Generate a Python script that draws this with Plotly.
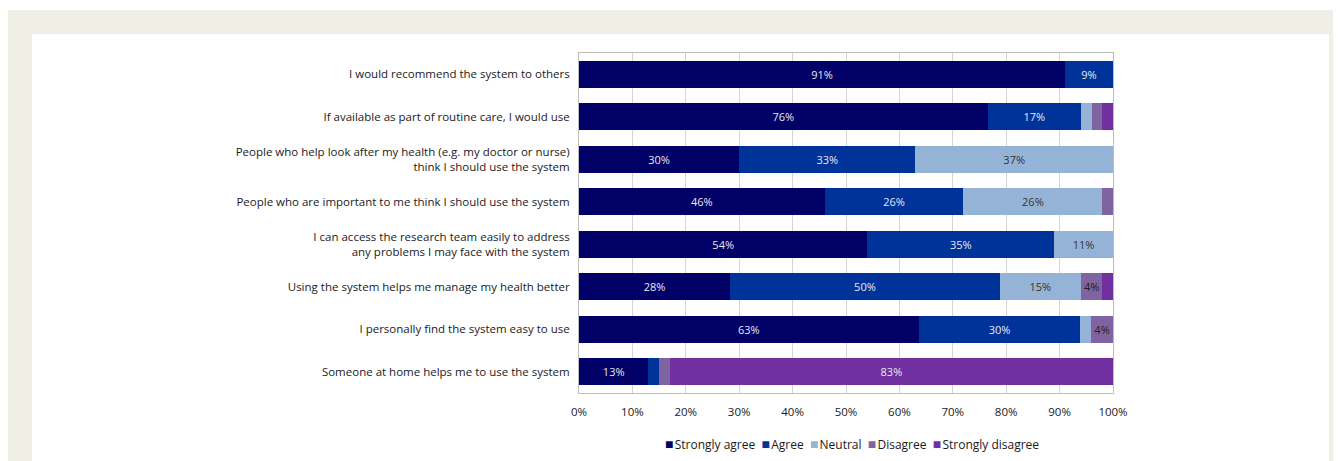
import plotly.graph_objects as go

categories = [
    "I would recommend the system to others",
    "If available as part of routine care, I would use",
    "People who help look after my health (e.g. my doctor or nurse)<br>think I should use the system",
    "People who are important to me think I should use the system",
    "I can access the research team easily to address<br>any problems I may face with the system",
    "Using the system helps me manage my health better",
    "I personally find the system easy to use",
    "Someone at home helps me to use the system",
]
series_names = ["Strongly agree", "Agree", "Neutral", "Disagree", "Strongly disagree"]
strongly_agree = [91, 76.5, 30, 46, 54, 28.3, 63.6, 13]
agree = [9, 17.5, 33, 26, 35, 50.5, 30.3, 2]
neutral = [0, 2, 37, 26, 11, 15.2, 2, 0]
disagree = [0, 2, 0, 2, 0, 4, 4.1, 2]
strongly_disagree = [0, 2, 0, 0, 0, 2, 0, 83]
label_sa = ["91%", "76%", "30%", "46%", "54%", "28%", "63%", "13%"]
label_a = ["9%", "17%", "33%", "26%", "35%", "50%", "30%", ""]
label_n = ["", "", "37%", "26%", "11%", "15%", "", ""]
label_d = ["", "", "", "", "", "4%", "4%", ""]
label_sd = ["", "", "", "", "", "", "", "83%"]
tick_vals = [0, 10, 20, 30, 40, 50, 60, 70, 80, 90, 100]
tick_text = ["0%", "10%", "20%", "30%", "40%", "50%", "60%", "70%", "80%", "90%", "100%"]

colors = ["#000066", "#003399", "#95B3D7", "#8064A2", "#7030A0"]
text_colors = ["#e8e8f0", "#e8e8f0", "#333333", "#222222", "#e8e8f0"]
values = [strongly_agree, agree, neutral, disagree, strongly_disagree]
labels = [label_sa, label_a, label_n, label_d, label_sd]

FONT = "Open Sans"
fig = go.Figure()
for name, vals, lab, col, tc in zip(series_names, values, labels, colors, text_colors):
    fig.add_trace(go.Bar(
        y=categories, x=vals, name=name, orientation="h",
        marker=dict(color=col, line=dict(width=0)),
        text=lab, textposition="inside", insidetextanchor="middle", textangle=0,
        textfont=dict(color=tc, size=11, family=FONT),
        constraintext="none", hoverinfo="skip", showlegend=False,
    ))

# page body adds an 8px offset; figure coordinates = reference pixels - 8
OFF = 8
W, H = 1341 - OFF, 461 - OFF
L, R, T, B = 579 - OFF, 1113 - OFF, 53 - OFF, 393 - OFF


def px_x(px):
    return (px - OFF - L) / (R - L)


def px_y(py):
    return (B - (py - OFF)) / (B - T)


shapes = [
    dict(type="rect", xref="paper", yref="paper", x0=px_x(8), x1=px_x(1345), y0=px_y(465), y1=px_y(10),
         fillcolor="#efefe5", line=dict(width=0), layer="below"),
    dict(type="rect", xref="paper", yref="paper", x0=px_x(32), x1=px_x(1329), y0=px_y(465), y1=px_y(34),
         fillcolor="#ffffff", line=dict(width=0), layer="below"),
]

gap = "&nbsp;&nbsp;"
legend_text = gap.join(
    f"<span style='color:{c};font-size:14px'>■</span>&#8202;{n}" for n, c in zip(series_names, colors)
)
annotations = [
    dict(xref="paper", yref="paper", x=px_x(852), y=px_y(443), xanchor="center", yanchor="middle",
         text=legend_text, showarrow=False, font=dict(size=12, family=FONT, color="#1a1a1a")),
]

fig.update_layout(
    width=W, height=H,
    barmode="stack", bargap=0.37,
    paper_bgcolor="#ffffff", plot_bgcolor="#ffffff",
    margin=dict(l=L, r=W - R, t=T, b=H - B, pad=0, autoexpand=False),
    font=dict(family=FONT, size=11.5, color="#1a1a1a"),
    shapes=shapes, annotations=annotations,
    showlegend=False,
    xaxis=dict(range=[0, 100], tickvals=tick_vals, ticktext=tick_text,
               showgrid=True, gridcolor="#d4d4d4", gridwidth=1,
               showline=True, linecolor="#bdbdbd", linewidth=1, mirror=True,
               ticks="", zeroline=False, ticklabelstandoff=8,
               tickfont=dict(size=11.5, family=FONT, color="#1a1a1a")),
    yaxis=dict(autorange="reversed", showgrid=False, ticks="", showline=True,
               linecolor="#bdbdbd", linewidth=1, mirror=True,
               tickfont=dict(size=11.5, family=FONT, color="#1a1a1a"), ticklabelstandoff=6),
)

fig.write_html("out.html")
